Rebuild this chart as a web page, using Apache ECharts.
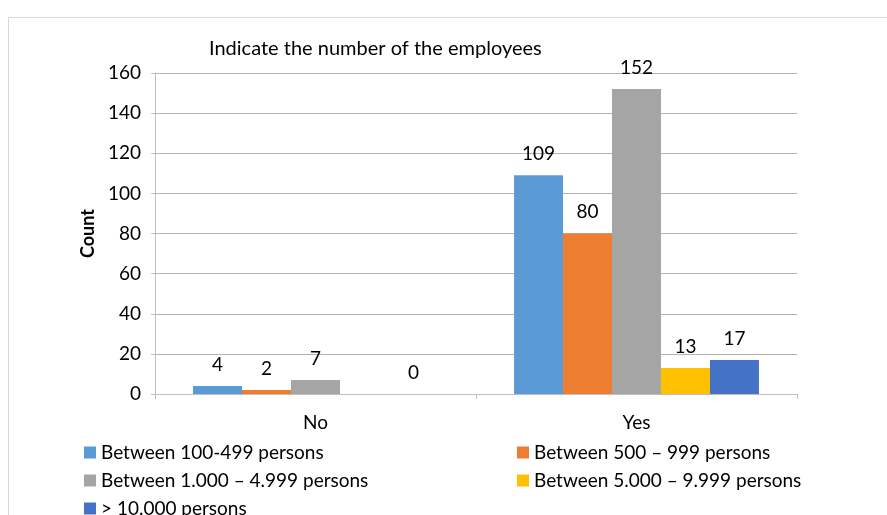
<!DOCTYPE html>
<html>
<head>
<meta charset="utf-8">
<script src="https://cdn.jsdelivr.net/npm/echarts@6/dist/echarts.min.js"></script>
<style>
  html, body { margin: 0; padding: 0; background: #ffffff; }
  #frame { position: absolute; left: 8px; top: 17px; width: 900px; height: 520px;
           border-left: 1px solid #d9d9d9; border-top: 1px solid #d9d9d9; box-sizing: border-box; }
  #chart { position: absolute; left: 0; top: 0; width: 887px; height: 515px; }
</style>
</head>
<body>
<div id="frame"></div>
<div id="chart"></div>
<script>
const categories = ['No', 'Yes'];
const seriesNames = [
  'Between 100-499 persons',
  'Between 500 – 999 persons',
  'Between 1.000 – 4.999 persons',
  'Between 5.000 – 9.999 persons',
  '> 10.000 persons'
];
const values100to499 = [4, 109];
const values500to999 = [2, 80];
const values1000to4999 = [7, 152];
const values5000to9999 = [null, 13];
const values10000plus = [0, 17];
const yTicks = [0, 20, 40, 60, 80, 100, 120, 140, 160];

const seriesValues = [values100to499, values500to999, values1000to4999, values5000to9999, values10000plus];
const colors = ['#5b9bd5', '#ed7d31', '#a5a5a5', '#ffc000', '#4472c4'];
const FONT = 'Lato';

const legendSpots = [
  { left: 84, top: 443 },
  { left: 517, top: 443 },
  { left: 84, top: 471 },
  { left: 517, top: 471 },
  { left: 84, top: 499 }
];

const chart = echarts.init(document.getElementById('chart'), null, { renderer: 'canvas' });
chart.setOption({
  animation: false,
  textStyle: { fontFamily: FONT },
  title: {
    text: 'Indicate the number of the employees',
    left: 204, top: 34,
    textStyle: { fontFamily: FONT, fontSize: 20, fontWeight: 'normal', color: '#000000' }
  },
  legend: seriesNames.map((name, i) => ({
    data: [name],
    left: legendSpots[i].left,
    top: legendSpots[i].top,
    itemWidth: 12, itemHeight: 12, itemGap: 5,
    icon: 'rect',
    textStyle: { fontFamily: FONT, fontSize: 19, color: '#000000', padding: [0, 0, 0, 0] },
    padding: 0
  })),
  grid: { left: 155, right: 90, top: 73, bottom: 121, containLabel: false },
  xAxis: {
    type: 'category',
    data: categories,
    axisLine: { lineStyle: { color: '#bfbfbf' } },
    axisTick: { show: true, length: 5, lineStyle: { color: '#bfbfbf' } },
    axisLabel: { fontFamily: FONT, fontSize: 19, color: '#000000', margin: 19 }
  },
  yAxis: {
    type: 'value',
    min: yTicks[0], max: yTicks[yTicks.length - 1], interval: 20,
    name: 'Count',
    nameLocation: 'middle',
    nameGap: 57,
    nameTextStyle: { fontFamily: FONT, fontSize: 18, fontWeight: 'bold', color: '#000000' },
    axisLine: { show: true, lineStyle: { color: '#bfbfbf' } },
    axisTick: { show: true, length: 4, lineStyle: { color: '#bfbfbf' } },
    axisLabel: { fontFamily: FONT, fontSize: 19, color: '#000000', margin: 14 },
    splitLine: { lineStyle: { color: '#b3b3b3' } }
  },
  series: seriesNames.map((name, i) => ({
    name: name,
    type: 'bar',
    data: seriesValues[i],
    barGap: '0%',
    barCategoryGap: '23.7%',
    itemStyle: { color: colors[i] },
    label: {
      show: true, position: 'top', distance: 12,
      fontFamily: FONT, fontSize: 19, color: '#000000'
    }
  }))
});
</script>
</body>
</html>
